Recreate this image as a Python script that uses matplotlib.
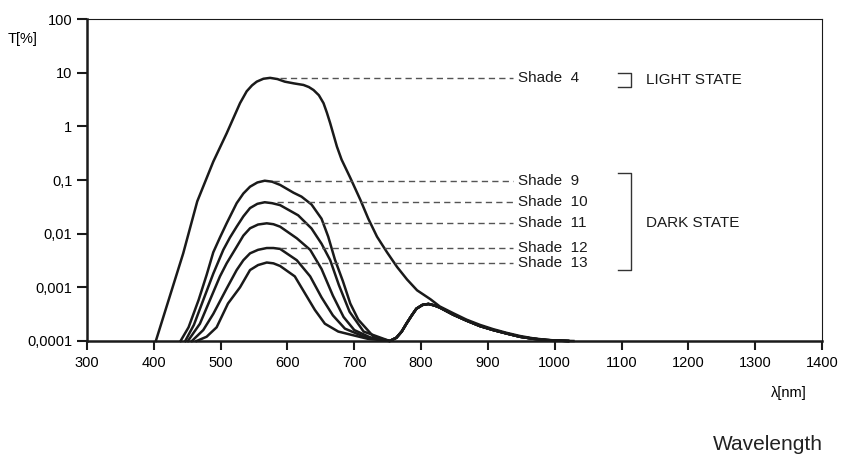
import numpy as np
import matplotlib
matplotlib.use("Agg")
from matplotlib import pyplot as plt

plt.rcParams['font.family'] = ['Liberation Sans', 'DejaVu Sans']

# ---- data ----
shade4_x = [403, 444, 465, 489, 509, 529, 539, 547, 554, 564, 574, 585, 596, 610, 624, 632,
            639, 647, 654, 659, 664, 674, 681, 694, 709, 721, 734, 749, 764, 779, 794, 814,
            828, 848, 868, 888, 908, 928, 948, 968, 988, 1008, 1028]
shade4_y = [1e-4, 0.0043, 0.04, 0.22, 0.74, 2.7, 4.5, 5.8, 6.8, 7.7, 8.0, 7.6, 6.8, 6.3, 5.9, 5.4,
            4.75, 3.8, 2.7, 1.8, 1.14, 0.42, 0.24, 0.11, 0.043, 0.019, 0.0088, 0.0045, 0.0024,
            0.0014, 0.00088, 0.0006, 0.00044, 0.00033, 0.00025, 0.0002, 0.000166, 0.000142,
            0.000124, 0.000112, 0.000105, 0.000101, 1e-4]

# near-infrared bump shared by the dark shades
nir_x = [763, 771, 778, 786, 793, 802, 811, 820, 828, 848, 868, 888, 908, 928, 948, 968, 988, 1020]
nir_y = [1.15e-4, 1.5e-4, 2.1e-4, 3.0e-4, 4.0e-4, 4.7e-4, 4.9e-4, 4.6e-4, 4.2e-4, 3.1e-4,
         2.4e-4, 1.9e-4, 1.6e-4, 1.38e-4, 1.2e-4, 1.1e-4, 1.04e-4, 1e-4]

shade9_x = [440, 452, 467, 479, 489, 499, 509, 524, 534, 544, 555, 566, 577, 589, 609, 621,
            636, 651, 661, 671, 683, 694, 706, 729, 753]
shade9_y = [1e-4, 1.8e-4, 5.8e-4, 0.0017, 0.0045, 0.0085, 0.0156, 0.037, 0.056, 0.075, 0.09,
            0.097, 0.093, 0.081, 0.058, 0.049, 0.035, 0.019, 0.0088, 0.0033, 0.0013, 5e-4,
            2.5e-4, 1.2e-4, 1e-4]

shade10_x = [447, 460, 474, 489, 504, 514, 524, 534, 544, 555, 566, 577, 589, 616, 636, 651,
             664, 677, 693, 714, 753]
shade10_y = [1e-4, 2e-4, 5.8e-4, 0.0018, 0.005, 0.0085, 0.0135, 0.021, 0.03, 0.036, 0.0385,
             0.037, 0.034, 0.022, 0.0125, 0.0065, 0.0032, 0.0011, 3.5e-4, 1.5e-4, 1e-4]

shade11_x = [451, 469, 484, 499, 509, 524, 534, 544, 556, 569, 579, 589, 614, 634, 651, 668,
             684, 700, 725, 753]
shade11_y = [1e-4, 2.1e-4, 5.8e-4, 0.0016, 0.0028, 0.0057, 0.0092, 0.0126, 0.0148, 0.0156,
             0.015, 0.0135, 0.0082, 0.005, 0.0022, 7e-4, 2.8e-4, 1.6e-4, 1.15e-4, 1e-4]

shade12_x = [457, 474, 489, 509, 524, 534, 544, 556, 569, 579, 589, 614, 634, 651, 668, 686,
             715, 753]
shade12_y = [1e-4, 1.6e-4, 3.2e-4, 9.5e-4, 0.0021, 0.0032, 0.0043, 0.005, 0.0054, 0.0054,
             0.0052, 0.0032, 0.0016, 6.5e-4, 3e-4, 1.7e-4, 1.2e-4, 1e-4]

shade13_x = [464, 479, 494, 511, 529, 544, 556, 569, 579, 589, 611, 626, 641, 656, 676, 696,
             720, 753]
shade13_y = [1e-4, 1.2e-4, 1.8e-4, 5e-4, 0.001, 0.0021, 0.0026, 0.0029, 0.0028, 0.0025,
             0.0016, 7.8e-4, 3.8e-4, 2.1e-4, 1.5e-4, 1.3e-4, 1.1e-4, 1e-4]

shade_names = ['Shade  4', 'Shade  9', 'Shade  10', 'Shade  11', 'Shade  12', 'Shade  13']
shade_peak = [7.8, 0.097, 0.039, 0.0156, 0.0055, 0.0029]
dash_start = [589, 579, 584, 589, 589, 589]

y_ticks = [1e-4, 1e-3, 1e-2, 1e-1, 1, 10, 100]
y_ticklabels = ['0,0001', '0,001', '0,01', '0,1', '1', '10', '100']
x_ticks = [300, 400, 500, 600, 700, 800, 900, 1000, 1100, 1200, 1300, 1400]

# ---- figure ----
fig = plt.figure(figsize=(8.51, 4.59), dpi=100)
ax = fig.add_axes([87/851, 1-341/459, (822-87)/851, (341-19)/459])
ax.set_yscale('log')
ax.set_xlim(300, 1400)
ax.set_ylim(1e-4, 100)

lw = 1.8
ax.plot(shade4_x, shade4_y, color='#1a1a1a', lw=lw, solid_joinstyle='round', clip_on=False)
dark = [(shade9_x, shade9_y), (shade10_x, shade10_y), (shade11_x, shade11_y),
        (shade12_x, shade12_y), (shade13_x, shade13_y)]
for xs, ys in dark:
    ax.plot(xs + nir_x, ys + nir_y, color='#1a1a1a', lw=lw, solid_joinstyle='round', clip_on=False)

# dashed leader lines and labels
for name, pk, xs in zip(shade_names, shade_peak, dash_start):
    ax.plot([xs, 938], [pk, pk], color='#555555', lw=1.0, dashes=(4.5, 3))
    ax.text(945, pk, name, fontsize=11, ha='left', va='center', color='#1a1a1a')

# state brackets
ax.plot([1095, 1114, 1114, 1095], [9.7, 9.7, 5.5, 5.5], color='#333333', lw=1.0)
ax.plot([1095, 1114, 1114, 1095], [0.137, 0.137, 0.0021, 0.0021], color='#333333', lw=1.0)
ax.text(1137, 7.3, 'LIGHT STATE', fontsize=11, ha='left', va='center', color='#1a1a1a')
ax.text(1137, 0.0156, 'DARK STATE', fontsize=11, ha='left', va='center', color='#1a1a1a')

# axes styling
ax.spines['left'].set_linewidth(1.8)
ax.spines['bottom'].set_linewidth(1.8)
ax.spines['top'].set_linewidth(0.8)
ax.spines['right'].set_linewidth(0.8)
for s in ax.spines.values():
    s.set_color('#1a1a1a')
ax.set_yticks(y_ticks)
ax.set_yticklabels(y_ticklabels)
ax.minorticks_off()
ax.set_xticks(x_ticks)
ax.tick_params(axis='y', length=7, width=1.5, pad=3.5, labelsize=10.5, color='#1a1a1a')
ax.tick_params(axis='x', length=6.5, width=1.5, pad=4, labelsize=10.5, color='#1a1a1a')

fig.text(23/851, 1-38.5/459, 'T[%]', fontsize=10.5, ha='center', va='center')
fig.text(789/851, 1-393/459, 'λ[nm]', fontsize=10.5, ha='center', va='center')
fig.text(823/851, 1-445/459, 'Wavelength', fontsize=15, ha='right', va='center', color='#222222')

fig.savefig('out.png', dpi=100)
